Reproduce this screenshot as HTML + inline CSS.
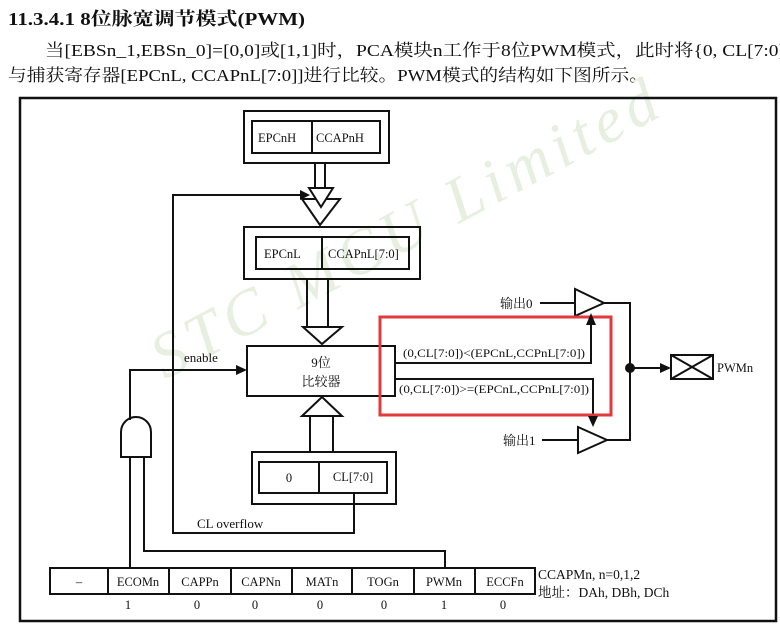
<!DOCTYPE html>
<html><head><meta charset="utf-8"><style>
body{margin:0;background:#fff;}
svg{display:block;}
text{font-family:"Liberation Serif","Noto Serif CJK SC",serif;fill:#111;}
</style></head><body>
<svg width="780" height="625" viewBox="0 0 780 625" xmlns="http://www.w3.org/2000/svg">
<text x="8" y="25" font-size="18" font-weight="bold" textLength="297" lengthAdjust="spacingAndGlyphs">11.3.4.1  8位脉宽调节模式(PWM)</text>
<text x="45" y="56" font-size="17" textLength="740" lengthAdjust="spacingAndGlyphs">当[EBSn_1,EBSn_0]=[0,0]或[1,1]时，PCA模块n工作于8位PWM模式，此时将{0, CL[7:0]</text>
<text x="8" y="81" font-size="17" textLength="640" lengthAdjust="spacingAndGlyphs">与捕获寄存器[EPCnL, CCAPnL[7:0]]进行比较。PWM模式的结构如下图所示。</text>
<text x="0" y="0" font-size="64" font-style="italic" style="fill:#e6efe0" transform="translate(165,380) rotate(-28)" letter-spacing="6">STC   MCU   Limited</text>
<g fill="none" stroke="#111" stroke-width="2">
<rect x="20" y="98" width="756" height="523" stroke-width="2.5"/>
<rect x="244" y="111" width="145" height="52"/>
<rect x="252" y="121" width="128" height="32"/>
<line x1="312" y1="121" x2="312" y2="153"/>
<rect x="244" y="227" width="176" height="52"/>
<rect x="256" y="237" width="153" height="32"/>
<line x1="322" y1="237" x2="322" y2="269"/>
<rect x="247" y="346" width="148" height="50"/>
<rect x="252" y="452" width="144" height="52"/>
<rect x="259" y="462" width="128" height="31"/>
<line x1="319" y1="462" x2="319" y2="493"/>
<line x1="315" y1="163" x2="315" y2="198"/><line x1="325" y1="163" x2="325" y2="198"/>
<polygon points="302,199 340,199 320,225" fill="#fff"/>
<polygon points="309,188 333,188 321,207" fill="#fff"/>
<line x1="307" y1="279" x2="307" y2="327"/><line x1="328" y1="279" x2="328" y2="327"/>
<polygon points="303,327 342,327 322,344" fill="#fff"/>
<polygon points="302,416 342,416 322,397" fill="#fff"/>
<line x1="310" y1="416" x2="310" y2="452"/><line x1="333" y1="416" x2="333" y2="452"/>
<polyline points="354,493 354,533 173,533 173,195 300,195"/>
<polyline points="130,420 130,370 240,370"/>
<path d="M121,457 L121,432 A15,15 0 0 1 151,432 L151,457 Z"/>
<line x1="130" y1="457" x2="130" y2="568"/>
<polyline points="144,457 144,551 445,551 445,568"/>
<polyline points="395,363 591,363 591,323"/>
<polyline points="395,379 593,379 593,418"/>
<polygon points="575,289 575,316 604,303"/>
<polygon points="578,427 578,453 607,440"/>
<line x1="540" y1="303" x2="575" y2="303"/>
<line x1="542" y1="440" x2="578" y2="440"/>
<polyline points="604,303 630,303 630,440 607,440"/>
<line x1="630" y1="368" x2="664" y2="368"/>
<rect x="671" y="355" width="42" height="24"/>
<line x1="671" y1="355" x2="713" y2="379"/><line x1="671" y1="379" x2="713" y2="355"/>
<rect x="50" y="568" width="485" height="26"/>
<line x1="108" y1="568" x2="108" y2="594"/><line x1="169" y1="568" x2="169" y2="594"/>
<line x1="231" y1="568" x2="231" y2="594"/><line x1="292" y1="568" x2="292" y2="594"/>
<line x1="352" y1="568" x2="352" y2="594"/><line x1="414" y1="568" x2="414" y2="594"/>
<line x1="475" y1="568" x2="475" y2="594"/>
</g>
<rect x="380" y="317" width="231" height="98" fill="none" stroke="#e0393e" stroke-width="3"/>
<g fill="#111">
<polygon points="300,190 310,195 300,200"/>
<polygon points="236,365 247,370 236,375"/>
<polygon points="586,325 591,313 596,325"/>
<polygon points="588,416 593,427 598,416"/>
<polygon points="660,363 671,368 660,373"/>
<circle cx="630" cy="368" r="5"/>
</g>
<g font-size="12.5">
<text x="258" y="142">EPCnH</text><text x="316" y="142">CCAPnH</text>
<text x="264" y="258">EPCnL</text><text x="328" y="258">CCAPnL[7:0]</text>
<text x="321" y="367" text-anchor="middle" font-size="13">9位</text>
<text x="321" y="386" text-anchor="middle" font-size="13">比较器</text>
<text x="184" y="362" font-size="13">enable</text>
<text x="289" y="482" text-anchor="middle">0</text><text x="353" y="481" text-anchor="middle">CL[7:0]</text>
<text x="197" y="528" font-size="13">CL overflow</text>
<text x="403" y="357" font-size="12" textLength="182" lengthAdjust="spacingAndGlyphs">(0,CL[7:0])&lt;(EPCnL,CCPnL[7:0])</text>
<text x="399" y="393" font-size="12" textLength="190" lengthAdjust="spacingAndGlyphs">(0,CL[7:0])&gt;=(EPCnL,CCPnL[7:0])</text>
<text x="500" y="308" font-size="13">输出0</text>
<text x="503" y="445" font-size="13">输出1</text>
<text x="717" y="372">PWMn</text>
<text x="79" y="586" text-anchor="middle">–</text>
<text x="138" y="586" text-anchor="middle">ECOMn</text>
<text x="200" y="586" text-anchor="middle">CAPPn</text>
<text x="261" y="586" text-anchor="middle">CAPNn</text>
<text x="322" y="586" text-anchor="middle">MATn</text>
<text x="383" y="586" text-anchor="middle">TOGn</text>
<text x="444" y="586" text-anchor="middle">PWMn</text>
<text x="505" y="586" text-anchor="middle">ECCFn</text>
<text x="128" y="609" text-anchor="middle">1</text><text x="197" y="609" text-anchor="middle">0</text>
<text x="255" y="609" text-anchor="middle">0</text><text x="320" y="609" text-anchor="middle">0</text>
<text x="384" y="609" text-anchor="middle">0</text><text x="444" y="609" text-anchor="middle">1</text>
<text x="503" y="609" text-anchor="middle">0</text>
<text x="538" y="579" font-size="13.5">CCAPMn,  n=0,1,2</text>
<text x="538" y="597" font-size="13.5">地址：DAh, DBh, DCh</text>
</g>
</svg>
</body></html>
